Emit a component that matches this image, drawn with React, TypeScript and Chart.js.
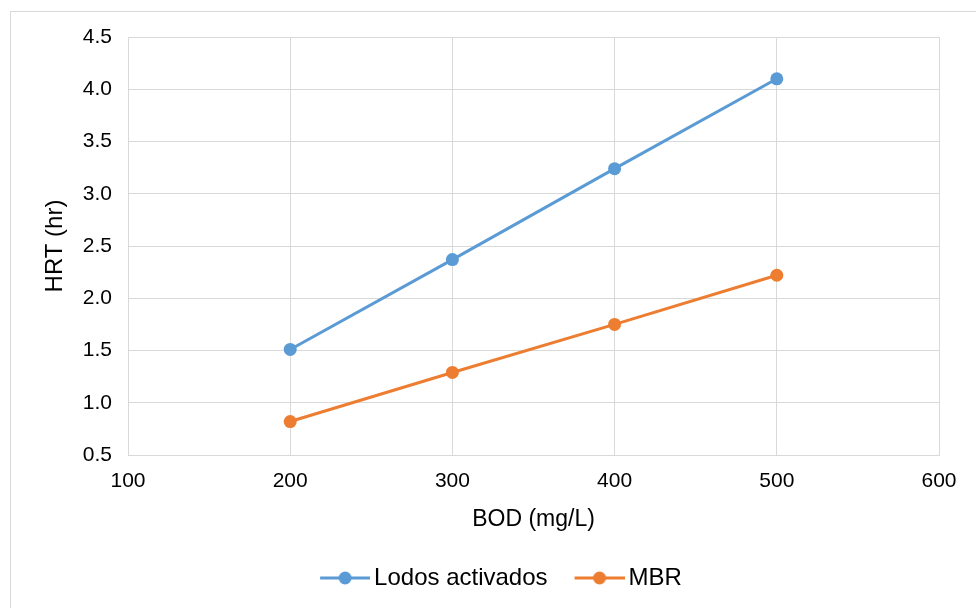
import React, { useEffect, useRef } from "react";
import { Chart, registerables } from "chart.js";

Chart.register(...registerables);

// BOD concentration (mg/L) on the x axis
const bodValues = [200, 300, 400, 500];
// Hydraulic retention time (hr) for each process
const lodosActivados = [1.51, 2.37, 3.24, 4.1];
const mbr = [0.82, 1.29, 1.75, 2.22];

const seriesNames = ["Lodos activados", "MBR"];
const seriesColors = ["#5b9bd5", "#ed7d31"];

const xTitle = "BOD (mg/L)";
const yTitle = "HRT (hr)";

const FONT = "'Liberation Sans', Arial, sans-serif";
const TICK_SIZE = 21;
const TITLE_SIZE = 23;
const LEGEND_SIZE = 24;
const LEGEND_BOX = 58;

// Legend swatch: a short line with a round marker, right-aligned in the image
function makeSwatch(color: string): HTMLCanvasElement {
  const w = LEGEND_BOX + LEGEND_SIZE - 8;
  const h = 16;
  const c = document.createElement("canvas");
  c.width = w;
  c.height = h;
  const ctx = c.getContext("2d")!;
  ctx.strokeStyle = color;
  ctx.lineWidth = 3;
  ctx.beginPath();
  ctx.moveTo(w - 50, h / 2);
  ctx.lineTo(w, h / 2);
  ctx.stroke();
  ctx.fillStyle = color;
  ctx.beginPath();
  ctx.arc(w - 25, h / 2, 6.5, 0, Math.PI * 2);
  ctx.fill();
  return c;
}

// Light frame around the whole chart
const framePlugin = {
  id: "frame",
  beforeDraw(chart: Chart) {
    const ctx = chart.ctx;
    ctx.save();
    ctx.fillStyle = "#ffffff";
    ctx.fillRect(0, 0, chart.width, chart.height);
    ctx.strokeStyle = "#d9d9d9";
    ctx.lineWidth = 1;
    ctx.strokeRect(10.5, 11.5, 1200, 1200);
    ctx.restore();
  },
};

export default function App() {
  const ref = useRef<HTMLCanvasElement | null>(null);

  useEffect(() => {
    if (!ref.current) return;
    const swatches = seriesColors.map(makeSwatch);
    const toPoints = (ys: number[]) => bodValues.map((x, i) => ({ x, y: ys[i] }));
    const chart = new Chart(ref.current, {
      type: "scatter",
      data: {
        datasets: [lodosActivados, mbr].map((ys, i) => ({
          label: seriesNames[i],
          data: toPoints(ys),
          showLine: true,
          borderColor: seriesColors[i],
          backgroundColor: seriesColors[i],
          borderWidth: 3,
          pointRadius: 6.5,
          pointHoverRadius: 6.5,
          pointBorderWidth: 0,
        })),
      },
      options: {
        animation: false,
        responsive: false,
        layout: { padding: { left: 10, right: 0, top: 37, bottom: 8 } },
        plugins: {
          tooltip: { enabled: false },
          legend: {
            position: "bottom",
            labels: {
              usePointStyle: true,
              pointStyleWidth: LEGEND_BOX,
              padding: 11,
              color: "#000",
              font: { family: FONT, size: LEGEND_SIZE },
              generateLabels: (ch: Chart) =>
                ch.data.datasets.map((ds, i) => ({
                  text: ds.label as string,
                  pointStyle: swatches[i],
                  datasetIndex: i,
                  hidden: false,
                  lineWidth: 0,
                  fontColor: "#000",
                })),
            },
          },
        },
        scales: {
          x: {
            type: "linear",
            min: 100,
            max: 600,
            ticks: {
              stepSize: 100,
              padding: 14,
              color: "#000",
              font: { family: FONT, size: TICK_SIZE },
            },
            grid: { color: "#d9d9d9", drawTicks: false },
            border: { color: "#d9d9d9" },
            title: {
              display: true,
              text: xTitle,
              color: "#000",
              font: { family: FONT, size: TITLE_SIZE },
              padding: { top: 0, bottom: 22 },
            },
            afterFit: (s: any) => {
              s.height = 100;
              s.paddingRight = 37;
            },
          },
          y: {
            min: 0.5,
            max: 4.5,
            ticks: {
              stepSize: 0.5,
              padding: 16,
              color: "#000",
              font: { family: FONT, size: TICK_SIZE },
              callback: (v: any) => Number(v).toFixed(1),
            },
            grid: { color: "#d9d9d9", drawTicks: false },
            border: { color: "#d9d9d9" },
            title: {
              display: true,
              text: yTitle,
              color: "#000",
              font: { family: FONT, size: 24 },
              padding: { top: 31, bottom: 0 },
            },
            afterFit: (s: any) => {
              s.width = 118;
            },
          },
        },
      },
      plugins: [framePlugin],
    });
    return () => chart.destroy();
  }, []);

  return (
    <div style={{ position: "fixed", left: 0, top: 0, width: 976, height: 608 }}>
      <canvas ref={ref} width={976} height={608} />
    </div>
  );
}
